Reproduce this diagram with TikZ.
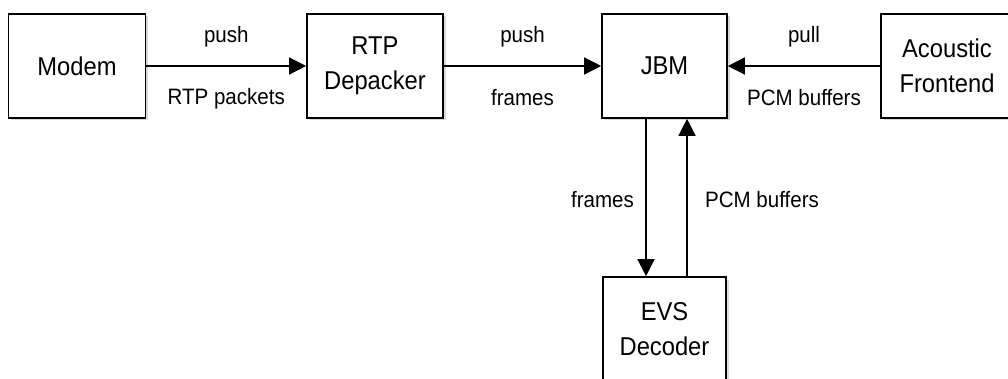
\documentclass[tikz,border=0pt]{standalone}
\usepackage{fontspec}
\setmainfont{Liberation Sans}[FakeStretch=0.92]
\usetikzlibrary{arrows.meta,shadows}
\begin{document}
\begin{tikzpicture}[x=1pt,y=-1pt,
  blk/.style={draw=black,line width=1.6pt,fill=white,minimum height=104pt,inner sep=0pt,align=center,
    font=\fontsize{25.8}{35}\selectfont,
    drop shadow={opacity=0.3,shadow xshift=2.5pt,shadow yshift=-2.5pt}},
  conn/.style={line width=1.4pt,-{Triangle[length=17pt,width=17pt]}},
  lbl/.style={font=\fontsize{22.3}{26}\selectfont,inner sep=0pt}]
\useasboundingbox (0,0) rectangle (1008,379);
\clip (0,0) rectangle (1008,379);
\node[blk,minimum width=137pt] (modem) at (77,66) {Modem};
\node[blk,minimum width=136pt] (rtp) at (375,66) {RTP\\Depacker};
\node[blk,minimum width=125pt] (jbm) at (664.5,66) {JBM};
\node[blk,minimum width=132pt] (af) at (947,66) {Acoustic\\Frontend};
\node[blk,minimum width=123pt] (evs) at (664.5,329) {EVS\\Decoder};
\draw[conn] (modem) -- (rtp)
  node[lbl,midway,yshift=29pt] (l1) {push}
  node[lbl,midway,yshift=-33pt] (l2) {RTP packets};
\draw[conn] (rtp) -- (jbm)
  node[lbl,midway,yshift=29pt] (l3) {push}
  node[lbl,midway,yshift=-32pt] (l4) {frames};
\draw[conn] (af) -- (jbm)
  node[lbl,midway,yshift=29pt] (l5) {pull}
  node[lbl,midway,yshift=-32pt] (l6) {PCM buffers};
\coordinate (fx) at (646,0);
\coordinate (px) at (687,0);
\draw[conn] (jbm.south -| fx) -- (evs.north -| fx);
\draw[conn] (evs.north -| px) -- (jbm.south -| px);
\node[lbl,anchor=east] (l7) at (634,200) {frames};
\node[lbl,anchor=west] (l8) at (705,200) {PCM buffers};
\end{tikzpicture}
\end{document}
